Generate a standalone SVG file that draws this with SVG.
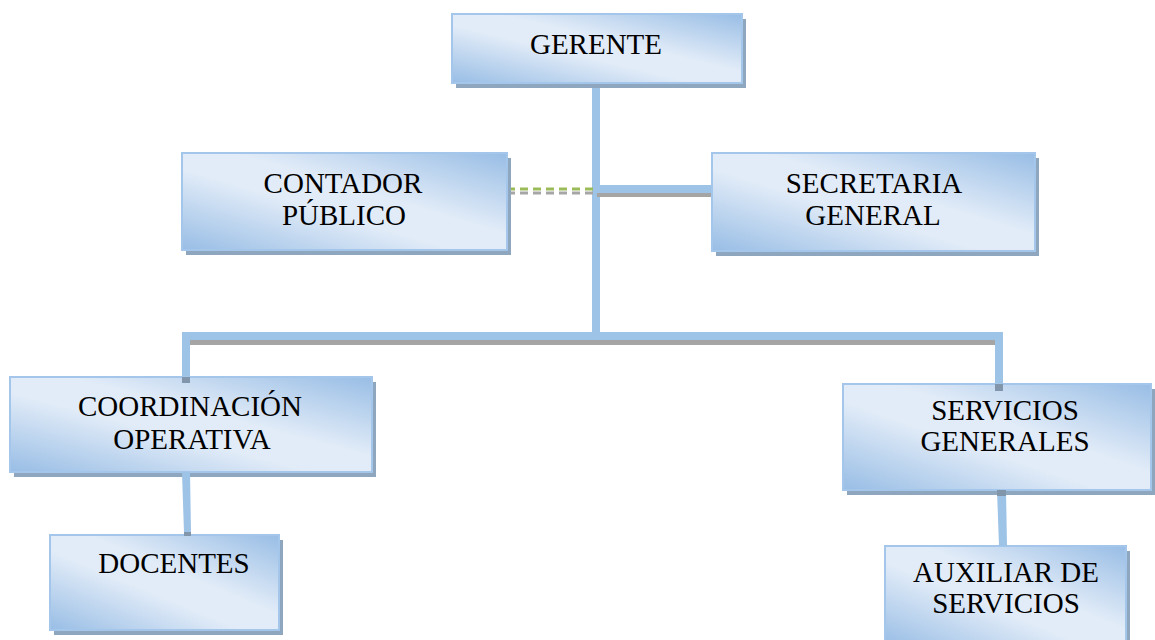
<svg xmlns="http://www.w3.org/2000/svg" width="1155" height="640" viewBox="0 0 1155 640">
<defs>
<linearGradient id="g" x1="0" y1="1" x2="1" y2="0">
<stop offset="0" stop-color="#98bde5"/>
<stop offset="0.42" stop-color="#e2ecf8"/>
<stop offset="0.58" stop-color="#e2ecf8"/>
<stop offset="1" stop-color="#98bde5"/>
</linearGradient>
<style>
.box{fill:url(#g);stroke:#a3c6ea;stroke-width:2}
.sh{fill:#8fa6bf}
.t{font-family:"Liberation Serif","Times New Roman",serif;font-size:29px;fill:#000;text-anchor:middle}
.c{fill:#9dc3e6}
.cs{fill:#a5a5a5}
.cd{fill:#8196ab}
</style>
</defs>
<rect width="1155" height="640" fill="#fff"/>
<g id="connectors">
<rect class="c" x="592" y="83" width="8" height="250"/>
<rect class="cs" x="597" y="193" width="115" height="4"/>
<rect class="c" x="600" y="185" width="112" height="8"/>
<line x1="507" y1="189" x2="597" y2="189" stroke="#9bbb59" stroke-width="3" stroke-dasharray="8 5"/>
<line x1="507" y1="193" x2="597" y2="193" stroke="#a6a6a6" stroke-width="3" stroke-dasharray="8 5"/>
<rect class="cs" x="190" y="340" width="805" height="5"/>
<rect class="c" x="182" y="332" width="821" height="8"/>
<rect class="c" x="182" y="332" width="8" height="48"/>
<rect class="c" x="995" y="332" width="8" height="55"/>
</g>
<g id="gerente">
<rect class="sh" x="456" y="19" width="290" height="69"/>
<rect class="box" x="452" y="14" width="290" height="69"/>
<text class="t" x="596" y="54">GERENTE</text>
</g>
<g id="contador">
<rect class="sh" x="186" y="158" width="325" height="97"/>
<rect class="box" x="182" y="153" width="325" height="97"/>
<text class="t" x="343" y="193">CONTADOR</text>
<text class="t" x="344" y="225">PÚBLICO</text>
</g>
<g id="secretaria">
<rect class="sh" x="716" y="158" width="323" height="98"/>
<rect class="box" x="712" y="153" width="323" height="98"/>
<text class="t" x="874" y="193">SECRETARIA</text>
<text class="t" x="873" y="225">GENERAL</text>
</g>
<g id="coordinacion">
<rect class="sh" x="14" y="382" width="362" height="95"/>
<rect class="box" x="10" y="377" width="362" height="95"/>
<text class="t" x="190" y="416">COORDINACIÓN</text>
<text class="t" x="192" y="449">OPERATIVA</text>
</g>
<g id="servicios">
<rect class="sh" x="847" y="389" width="308" height="106"/>
<rect class="box" x="843" y="384" width="308" height="106"/>
<text class="t" x="1005" y="420">SERVICIOS</text>
<text class="t" x="1005" y="451">GENERALES</text>
</g>
<g id="docentes">
<rect class="sh" x="54" y="540" width="229" height="95"/>
<rect class="box" x="50" y="535" width="229" height="95"/>
<text class="t" x="174" y="573">DOCENTES</text>
</g>
<g id="auxiliar">
<rect class="sh" x="889" y="551" width="241" height="100"/>
<rect class="box" x="885" y="546" width="241" height="100"/>
<text class="t" x="1006" y="582">AUXILIAR DE</text>
<text class="t" x="1006" y="613">SERVICIOS</text>
</g>
<g id="connectors-over">
<rect class="cd" x="182" y="377" width="8" height="6"/>
<rect class="cd" x="995" y="384" width="8" height="7"/>
<polygon class="c" points="182,472 190,472 191,533 184,533"/>
<rect class="cd" x="184" y="532" width="7" height="4"/>
<polygon class="c" points="997,490 1006,490 1007,546 999,546"/>
<rect class="cd" x="997" y="490" width="9" height="6"/>
</g>
</svg>
